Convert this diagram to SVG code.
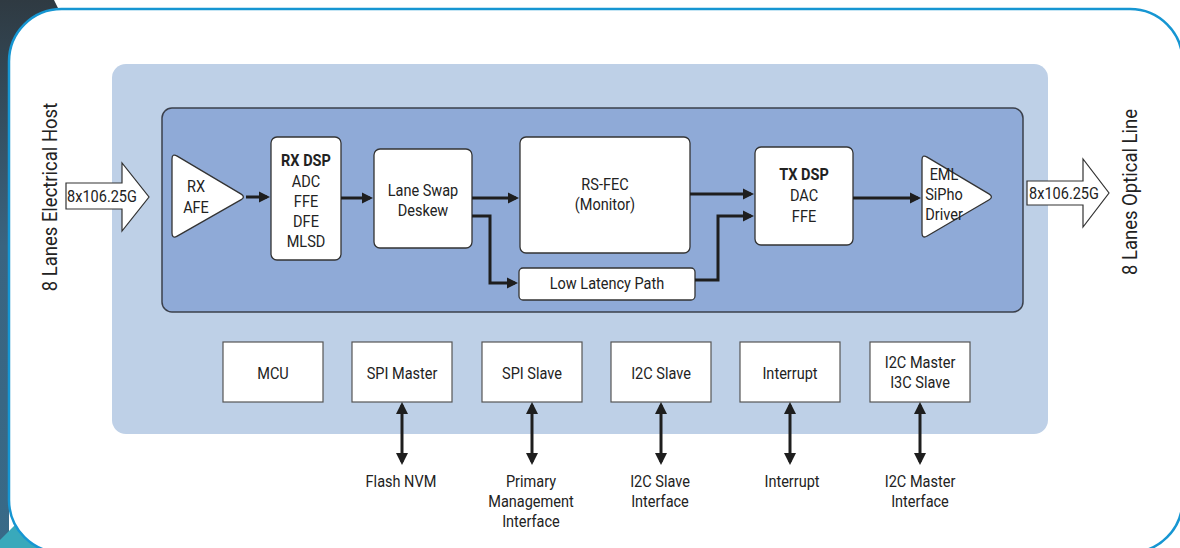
<svg xmlns="http://www.w3.org/2000/svg" width="1180" height="548" viewBox="0 0 1180 548">
<defs>
<linearGradient id="bgDark" x1="0" y1="0" x2="0" y2="1">
<stop offset="0" stop-color="#2f3a42"/>
<stop offset="0.45" stop-color="#3a6480"/>
<stop offset="1" stop-color="#386a88"/>
</linearGradient>
<marker id="ah" markerUnits="userSpaceOnUse" markerWidth="12" markerHeight="12" refX="8" refY="6" orient="auto-start-reverse" viewBox="0 0 12 12">
<path d="M0,0.5 L11,6 L0,11.5 Z" fill="#1e1e1e"/>
</marker>
<marker id="ah2" markerUnits="userSpaceOnUse" markerWidth="14" markerHeight="14" refX="9" refY="7" orient="auto-start-reverse" viewBox="0 0 14 14">
<path d="M0,1 L12,7 L0,13 Z" fill="#1e1e1e"/>
</marker>
</defs>
<style>
text{font-family:Roboto,"Liberation Sans",sans-serif;fill:#222;font-size:16.5px;text-anchor:middle;transform-box:fill-box;transform-origin:center;transform:scaleX(0.88)}
.b{font-weight:bold}
.box{fill:#fff;stroke:#333;stroke-width:1.3}
.sbox{fill:#fff;stroke:#555;stroke-width:1.2}
.con{fill:none;stroke:#1e1e1e;stroke-width:3}
.blk{fill:#fff;stroke:#333;stroke-width:1.2}
.vt{font-size:21px}
</style>
<!-- background -->
<rect x="0" y="0" width="1180" height="548" fill="#fff"/>
<path d="M0,0 L54,0 L60,12 L9,60 L9,548 L0,548 Z" fill="url(#bgDark)"/>
<path d="M0,548 L0,540 L16,524 L60,548 Z" fill="#39a9bb"/>
<rect x="9" y="9" width="1173.5" height="543.5" rx="52.5" fill="#fff" stroke="#1696d2" stroke-width="2.5"/>
<!-- containers -->
<rect id="outer" x="112" y="64" width="936" height="370" rx="14" fill="#bed0e7"/>
<rect id="inner" x="162" y="108" width="861" height="204" rx="10" fill="#8faad7" stroke="#3b404c" stroke-width="1.5"/>
<!-- side labels -->
<g id="host-label" transform="translate(57,197) rotate(-90)"><text class="vt" x="0" y="0">8 Lanes Electrical Host</text></g>
<g id="line-label" transform="translate(1137,192) rotate(-90)"><text class="vt" x="0" y="0">8 Lanes Optical Line</text></g>
<g id="in-arrow">
<path class="blk" d="M66,183 L122,183 L122,163 L149,197 L122,231 L122,209 L66,209 Z"/>
<text x="102" y="202">8x106.25G</text>
</g>
<g id="out-arrow">
<path class="blk" d="M1027,181 L1083,181 L1083,159 L1109,193 L1083,227 L1083,205 L1027,205 Z"/>
<text x="1064" y="199">8x106.25G</text>
</g>
<g id="rx-afe">
<path class="box" d="M172,159 Q172,153 177.2,156.1 L240.8,193.9 Q246,197 240.8,199.9 L177.2,236.1 Q172,239 172,233 Z"/>
<text x="196" y="192">RX</text>
<text x="196" y="213">AFE</text>
</g>
<g id="rx-dsp">
<rect class="box" x="271" y="137" width="70" height="123" rx="6"/>
<text class="b" x="306" y="166">RX DSP</text>
<text x="306" y="187">ADC</text>
<text x="306" y="207">FFE</text>
<text x="306" y="227">DFE</text>
<text x="306" y="247">MLSD</text>
</g>
<g id="lane-swap">
<rect class="box" x="374" y="149" width="98" height="99" rx="6"/>
<text x="423" y="196">Lane Swap</text>
<text x="423" y="216">Deskew</text>
</g>
<g id="rs-fec">
<rect class="box" x="520" y="137" width="170" height="116" rx="6"/>
<text x="605" y="190">RS-FEC</text>
<text x="605" y="210">(Monitor)</text>
</g>
<g id="llp">
<rect class="box" x="519" y="268" width="176" height="32" rx="4"/>
<text x="607" y="289">Low Latency Path</text>
</g>
<g id="tx-dsp">
<rect class="box" x="755" y="147" width="98" height="98" rx="6"/>
<text class="b" x="804" y="180">TX DSP</text>
<text x="804" y="201">DAC</text>
<text x="804" y="222">FFE</text>
</g>
<g id="eml">
<path class="box" d="M922,160 Q922,154 927.1,157.1 L988.9,193.9 Q994,197 988.8,200 L927.2,236 Q922,239 922,233 Z"/>
<text x="944" y="180">EML</text>
<text x="944" y="200">SiPho</text>
<text x="944" y="220">Driver</text>
</g>
<g id="mcu"><rect class="sbox" x="223" y="342" width="100" height="60"/><text x="273" y="379">MCU</text></g>
<g id="spi-master"><rect class="sbox" x="352" y="342" width="100" height="60"/><text x="402" y="379">SPI Master</text></g>
<g id="spi-slave"><rect class="sbox" x="482" y="342" width="100" height="60"/><text x="532" y="379">SPI Slave</text></g>
<g id="i2c-slave"><rect class="sbox" x="611" y="342" width="100" height="60"/><text x="661" y="379">I2C Slave</text></g>
<g id="interrupt"><rect class="sbox" x="740" y="342" width="100" height="60"/><text x="790" y="379">Interrupt</text></g>
<g id="i2c-master"><rect class="sbox" x="870" y="342" width="100" height="60"/><text x="920" y="368">I2C Master</text><text x="920" y="388">I3C Slave</text></g>
<g id="ext-labels">
<text x="401" y="487">Flash NVM</text>
<text x="531" y="487">Primary</text>
<text x="531" y="507">Management</text>
<text x="531" y="527">Interface</text>
<text x="660" y="487">I2C Slave</text>
<text x="660" y="507">Interface</text>
<text x="792" y="487">Interrupt</text>
<text x="920" y="487">I2C Master</text>
<text x="920" y="507">Interface</text>
</g>
<g id="connectors">
<path class="con" marker-end="url(#ah)" d="M246,197 L267,197"/>
<path class="con" marker-end="url(#ah)" d="M341,198 L370,198"/>
<path class="con" marker-end="url(#ah)" d="M472,198 L516,198"/>
<path class="con" marker-end="url(#ah)" d="M472,216 L490,216 L490,283 L515,283"/>
<path class="con" marker-end="url(#ah)" d="M690,194 L751,194"/>
<path class="con" marker-end="url(#ah)" d="M695,280 L718,280 L718,216 L751,216"/>
<path class="con" marker-end="url(#ah)" d="M853,198 L918,198"/>
<path class="con" marker-start="url(#ah2)" marker-end="url(#ah2)" d="M402,405 L402,462"/>
<path class="con" marker-start="url(#ah2)" marker-end="url(#ah2)" d="M532,405 L532,462"/>
<path class="con" marker-start="url(#ah2)" marker-end="url(#ah2)" d="M661,405 L661,462"/>
<path class="con" marker-start="url(#ah2)" marker-end="url(#ah2)" d="M790,405 L790,462"/>
<path class="con" marker-start="url(#ah2)" marker-end="url(#ah2)" d="M920,405 L920,462"/>
</g>
</svg>
